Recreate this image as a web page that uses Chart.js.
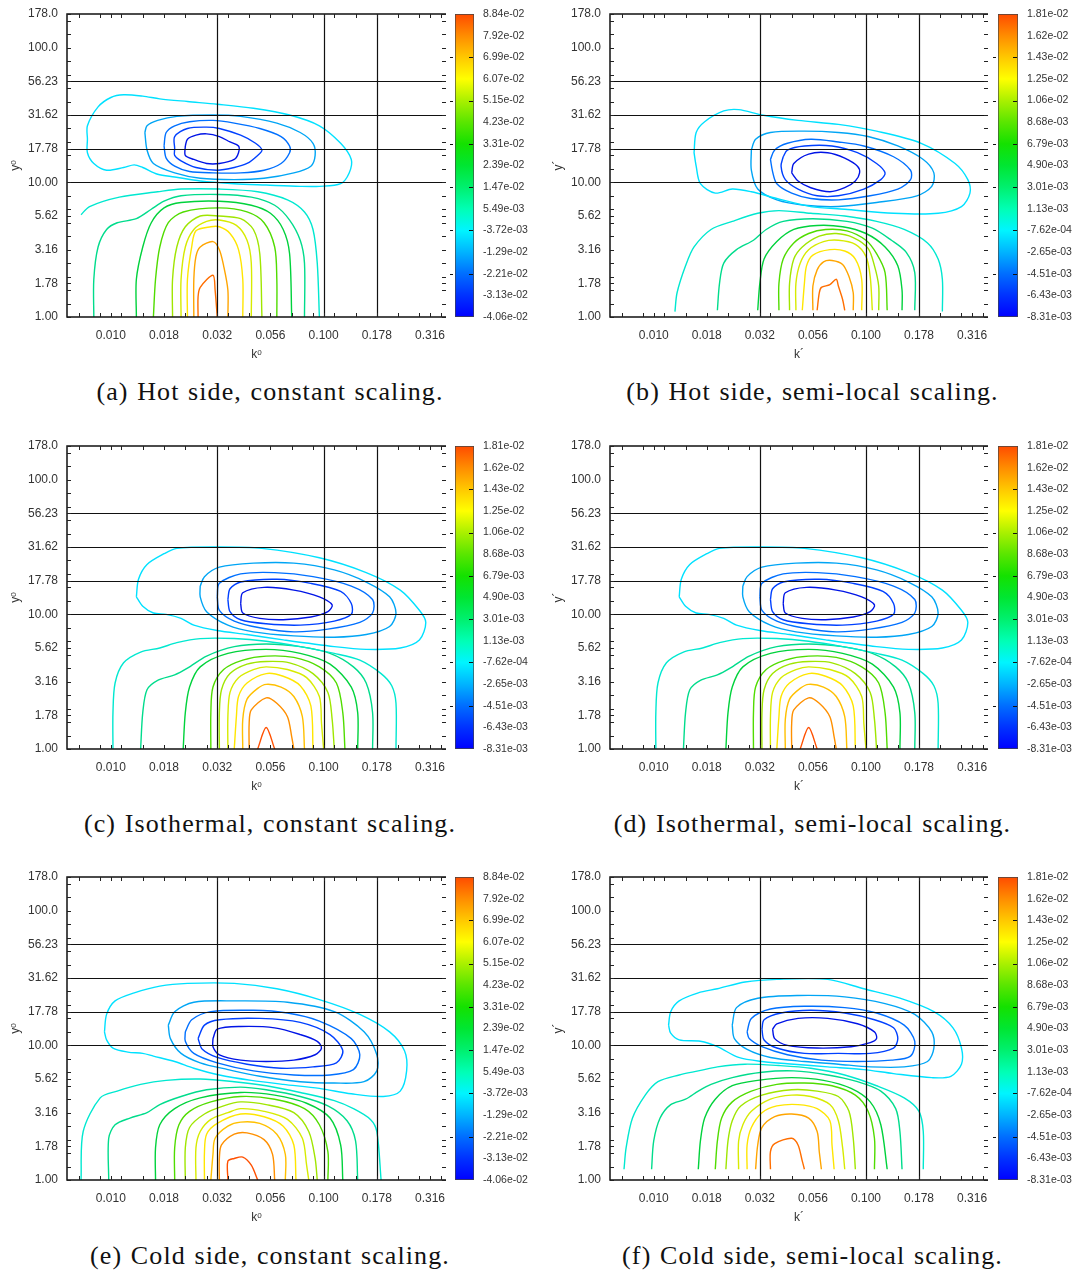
<!DOCTYPE html>
<html>
<head>
<meta charset="utf-8">
<script src="https://cdn.jsdelivr.net/npm/chart.js@4.4.1/dist/chart.umd.min.js"></script>
<style>
  body { margin: 0; background: #fff; width: 1086px; height: 1274px; position: relative; overflow: hidden; }
  .box { position: absolute; }
  .cap { position: absolute; text-align: center; font-family: 'Liberation Serif', 'DejaVu Serif', serif;
         font-size: 26px; letter-spacing: 1.1px; word-spacing: 1px; line-height: 30px; color: #111; }
</style>
</head>
<body>
<div class="box" style="left:0;top:0;width:450px;height:365px"><canvas id="pa"></canvas></div>
<div class="box" style="left:450px;top:0;width:95px;height:330px"><canvas id="ca"></canvas></div>
<div class="box" style="left:545px;top:0;width:447px;height:365px"><canvas id="pb"></canvas></div>
<div class="box" style="left:992px;top:0;width:94px;height:330px"><canvas id="cb"></canvas></div>

<div class="box" style="left:0;top:432px;width:450px;height:365px"><canvas id="pc"></canvas></div>
<div class="box" style="left:450px;top:432px;width:95px;height:330px"><canvas id="cc"></canvas></div>
<div class="box" style="left:545px;top:432px;width:447px;height:365px"><canvas id="pd"></canvas></div>
<div class="box" style="left:992px;top:432px;width:94px;height:330px"><canvas id="cd"></canvas></div>

<div class="box" style="left:0;top:863px;width:450px;height:365px"><canvas id="pe"></canvas></div>
<div class="box" style="left:450px;top:863px;width:95px;height:330px"><canvas id="ce"></canvas></div>
<div class="box" style="left:545px;top:863px;width:447px;height:365px"><canvas id="pf"></canvas></div>
<div class="box" style="left:992px;top:863px;width:94px;height:330px"><canvas id="cf"></canvas></div>

<div class="cap" style="left:0;top:377px;width:540px">(a) Hot side, constant scaling.</div>
<div class="cap" style="left:545px;top:377px;width:535px">(b) Hot side, semi-local scaling.</div>
<div class="cap" style="left:0;top:809px;width:540px">(c) Isothermal, constant scaling.</div>
<div class="cap" style="left:545px;top:809px;width:535px">(d) Isothermal, semi-local scaling.</div>
<div class="cap" style="left:0;top:1241px;width:540px">(e) Cold side, constant scaling.</div>
<div class="cap" style="left:545px;top:1241px;width:535px">(f) Cold side, semi-local scaling.</div>

<script>
/* ---------- axes ---------- */
const xTickVals = [0.01, 0.01778, 0.03162, 0.05623, 0.1, 0.1778, 0.3162];
const xTickLabels = ['0.010', '0.018', '0.032', '0.056', '0.100', '0.178', '0.316'];
const yTickVals = [1, 1.778, 3.162, 5.623, 10, 17.78, 31.62, 56.23, 100, 177.8];
const yTickLabels = ['1.00', '1.78', '3.16', '5.62', '10.00', '17.78', '31.62', '56.23', '100.0', '178.0'];
const xRefLines = [0.03162, 0.1, 0.1778];
const yRefLines = [10, 17.78, 31.62, 56.23];
const X_MIN = 10 ** -2.206, X_MAX = 10 ** -0.425;
const Y_MIN = 1, Y_MAX = 10 ** 2.25;

/* ---------- colour bars (top to bottom) ---------- */
const cbarWide = ['8.84e-02', '7.92e-02', '6.99e-02', '6.07e-02', '5.15e-02', '4.23e-02', '3.31e-02', '2.39e-02',
  '1.47e-02', '5.49e-03', '-3.72e-03', '-1.29e-02', '-2.21e-02', '-3.13e-02', '-4.06e-02'];
const cbarNarrow = ['1.81e-02', '1.62e-02', '1.43e-02', '1.25e-02', '1.06e-02', '8.68e-03', '6.79e-03', '4.90e-03',
  '3.01e-03', '1.13e-03', '-7.62e-04', '-2.65e-03', '-4.51e-03', '-6.43e-03', '-8.31e-03'];
// colormap, bottom -> top
const cmap = ['#0000ff', '#0032ff', '#006eff', '#00b4ff', '#00f5ff', '#00ffb4', '#00f06e', '#00e632',
  '#14e100', '#5ae600', '#aaf000', '#ffff00', '#ffc800', '#ff8c00', '#ff4b00'];

/* ---------- contour lines, [log10 k, log10 y] ---------- */
// (a) hot side, constant scaling
const hotConstNeg = [
  [[-2.11,1.32],[-2.11,1.42],[-2.06,1.56],[-2.00,1.63],[-1.94,1.65],[-1.85,1.64],[-1.77,1.62],[-1.64,1.60],[-1.50,1.58],[-1.33,1.55],[-1.16,1.50],[-1.02,1.42],[-0.92,1.29],[-0.87,1.17],[-0.88,1.07],[-0.92,0.99],[-1.02,0.97],[-1.11,0.97],[-1.27,0.98],[-1.42,0.99],[-1.58,1.01],[-1.70,1.04],[-1.78,1.06],[-1.85,1.11],[-1.89,1.13],[-1.94,1.11],[-2.02,1.09],[-2.08,1.14],[-2.11,1.22],[-2.11,1.32]],
  [[-1.84,1.37],[-1.83,1.42],[-1.78,1.46],[-1.69,1.49],[-1.52,1.50],[-1.39,1.49],[-1.22,1.44],[-1.11,1.37],[-1.05,1.29],[-1.04,1.20],[-1.06,1.12],[-1.14,1.07],[-1.28,1.03],[-1.42,1.02],[-1.58,1.03],[-1.70,1.07],[-1.80,1.14],[-1.83,1.24],[-1.84,1.37]],
  [[-1.75,1.27],[-1.74,1.37],[-1.70,1.42],[-1.63,1.45],[-1.52,1.46],[-1.42,1.44],[-1.30,1.40],[-1.20,1.34],[-1.16,1.27],[-1.16,1.22],[-1.20,1.14],[-1.28,1.09],[-1.39,1.07],[-1.52,1.07],[-1.63,1.08],[-1.70,1.12],[-1.74,1.18],[-1.75,1.27]],
  [[-1.70,1.25],[-1.70,1.34],[-1.64,1.40],[-1.55,1.41],[-1.49,1.40],[-1.39,1.35],[-1.32,1.29],[-1.29,1.24],[-1.31,1.20],[-1.36,1.14],[-1.42,1.11],[-1.50,1.09],[-1.60,1.11],[-1.67,1.16],[-1.70,1.20],[-1.70,1.25]],
  [[-1.65,1.27],[-1.64,1.32],[-1.60,1.35],[-1.55,1.36],[-1.49,1.34],[-1.44,1.30],[-1.40,1.27],[-1.40,1.22],[-1.42,1.17],[-1.49,1.14],[-1.55,1.14],[-1.61,1.17],[-1.65,1.20],[-1.65,1.27]]
];
const hotConstPos = [
  [[-2.14,0.76],[-2.10,0.82],[-1.96,0.89],[-1.78,0.93],[-1.67,0.95],[-1.49,0.95],[-1.31,0.93],[-1.17,0.87],[-1.09,0.78],[-1.05,0.65],[-1.03,0.40],[-1.02,0]],
  [[-2.08,0],[-2.08,0.28],[-2.06,0.52],[-2.02,0.65],[-1.97,0.70],[-1.88,0.73],[-1.81,0.80],[-1.75,0.86],[-1.67,0.90],[-1.49,0.91],[-1.34,0.89],[-1.23,0.83],[-1.16,0.72],[-1.11,0.57],[-1.09,0.40],[-1.09,0]],
  [[-1.88,0],[-1.88,0.28],[-1.85,0.52],[-1.81,0.70],[-1.75,0.81],[-1.67,0.85],[-1.49,0.86],[-1.34,0.83],[-1.25,0.77],[-1.19,0.65],[-1.16,0.47],[-1.15,0]],
  [[-1.80,0],[-1.79,0.28],[-1.77,0.52],[-1.73,0.70],[-1.66,0.78],[-1.49,0.81],[-1.36,0.78],[-1.28,0.70],[-1.23,0.52],[-1.22,0.28],[-1.22,0]],
  [[-1.71,0],[-1.71,0.28],[-1.69,0.52],[-1.65,0.67],[-1.58,0.75],[-1.49,0.75],[-1.39,0.73],[-1.33,0.65],[-1.30,0.47],[-1.29,0]],
  [[-1.67,0],[-1.67,0.28],[-1.65,0.52],[-1.61,0.65],[-1.55,0.71],[-1.49,0.72],[-1.41,0.68],[-1.36,0.57],[-1.34,0.40],[-1.34,0]],
  [[-1.64,0],[-1.64,0.28],[-1.62,0.52],[-1.60,0.64],[-1.53,0.67],[-1.49,0.67],[-1.44,0.62],[-1.40,0.50],[-1.38,0.28],[-1.38,0]],
  [[-1.61,0],[-1.61,0.28],[-1.60,0.45],[-1.58,0.52],[-1.52,0.56],[-1.49,0.50],[-1.47,0.38],[-1.45,0.20],[-1.45,0]],
  [[-1.59,0],[-1.59,0.15],[-1.58,0.22],[-1.52,0.31],[-1.51,0.20],[-1.50,0]]
];

// (b) hot side, semi-local scaling
const hotSemiNeg = [
  [[-1.81,1.22],[-1.80,1.37],[-1.76,1.45],[-1.67,1.53],[-1.60,1.54],[-1.49,1.50],[-1.32,1.46],[-1.13,1.43],[-0.95,1.38],[-0.74,1.29],[-0.58,1.14],[-0.52,1.02],[-0.51,0.92],[-0.55,0.82],[-0.66,0.77],[-0.87,0.77],[-1.10,0.80],[-1.26,0.82],[-1.42,0.88],[-1.54,0.93],[-1.63,0.95],[-1.71,0.92],[-1.78,0.99],[-1.80,1.12],[-1.81,1.22]],
  [[-1.54,1.24],[-1.52,1.32],[-1.45,1.37],[-1.29,1.38],[-1.13,1.37],[-0.99,1.34],[-0.85,1.27],[-0.73,1.17],[-0.68,1.07],[-0.69,0.97],[-0.76,0.90],[-0.95,0.85],[-1.13,0.82],[-1.29,0.83],[-1.42,0.87],[-1.51,0.95],[-1.54,1.09],[-1.54,1.24]],
  [[-1.45,1.17],[-1.43,1.24],[-1.37,1.29],[-1.26,1.32],[-1.13,1.30],[-1.01,1.27],[-0.87,1.19],[-0.79,1.09],[-0.79,1.02],[-0.85,0.95],[-0.98,0.90],[-1.13,0.87],[-1.26,0.88],[-1.35,0.92],[-1.42,0.99],[-1.44,1.08],[-1.45,1.17]],
  [[-1.39,1.19],[-1.37,1.24],[-1.29,1.27],[-1.16,1.27],[-1.04,1.22],[-0.95,1.14],[-0.91,1.07],[-0.93,1.02],[-1.01,0.95],[-1.13,0.90],[-1.23,0.90],[-1.32,0.95],[-1.38,1.02],[-1.40,1.12],[-1.39,1.19]],
  [[-1.35,1.07],[-1.34,1.14],[-1.27,1.21],[-1.18,1.22],[-1.10,1.18],[-1.04,1.12],[-1.03,1.07],[-1.05,1.01],[-1.10,0.96],[-1.17,0.93],[-1.26,0.96],[-1.32,1.01],[-1.35,1.07]]
];
const hotSemiPos = [
  [[-1.90,0.04],[-1.89,0.18],[-1.85,0.38],[-1.81,0.52],[-1.73,0.65],[-1.63,0.71],[-1.51,0.77],[-1.41,0.79],[-1.26,0.77],[-1.10,0.75],[-0.95,0.71],[-0.82,0.65],[-0.71,0.55],[-0.66,0.43],[-0.64,0.28],[-0.64,0.04]],
  [[-1.70,0.05],[-1.69,0.25],[-1.67,0.40],[-1.61,0.50],[-1.53,0.57],[-1.47,0.65],[-1.39,0.71],[-1.25,0.73],[-1.09,0.71],[-0.97,0.66],[-0.88,0.57],[-0.81,0.48],[-0.77,0.33],[-0.77,0.05]],
  [[-1.51,0.05],[-1.50,0.25],[-1.48,0.43],[-1.42,0.56],[-1.34,0.65],[-1.23,0.68],[-1.11,0.67],[-1.00,0.62],[-0.91,0.52],[-0.85,0.38],[-0.83,0.20],[-0.83,0.05]],
  [[-1.41,0.05],[-1.41,0.25],[-1.39,0.43],[-1.34,0.55],[-1.27,0.62],[-1.19,0.65],[-1.09,0.64],[-1.00,0.57],[-0.95,0.47],[-0.91,0.33],[-0.90,0.05]],
  [[-1.36,0.05],[-1.36,0.25],[-1.34,0.43],[-1.30,0.52],[-1.22,0.60],[-1.14,0.62],[-1.06,0.59],[-0.99,0.51],[-0.96,0.38],[-0.94,0.23],[-0.94,0.05]],
  [[-1.33,0.05],[-1.33,0.25],[-1.31,0.40],[-1.27,0.50],[-1.20,0.56],[-1.13,0.57],[-1.05,0.54],[-1.00,0.45],[-0.98,0.30],[-0.97,0.05]],
  [[-1.30,0.05],[-1.29,0.25],[-1.28,0.38],[-1.25,0.46],[-1.17,0.50],[-1.10,0.49],[-1.05,0.43],[-1.02,0.28],[-1.02,0.05]],
  [[-1.25,0.05],[-1.25,0.23],[-1.23,0.35],[-1.20,0.41],[-1.16,0.42],[-1.11,0.39],[-1.08,0.30],[-1.06,0.18],[-1.06,0.05]],
  [[-1.23,0.05],[-1.22,0.18],[-1.21,0.22],[-1.17,0.24],[-1.14,0.28],[-1.13,0.23],[-1.11,0.13],[-1.10,0.05]]
];

// (c) and (d) isothermal: both panels show the same field
const isoNeg = [
  [[-1.88,1.13],[-1.87,1.26],[-1.83,1.37],[-1.75,1.45],[-1.69,1.49],[-1.50,1.50],[-1.29,1.49],[-1.02,1.42],[-0.80,1.31],[-0.64,1.18],[-0.55,1.03],[-0.52,0.94],[-0.55,0.81],[-0.64,0.75],[-0.80,0.74],[-0.95,0.76],[-1.19,0.81],[-1.36,0.85],[-1.50,0.88],[-1.61,0.92],[-1.67,0.97],[-1.74,1.00],[-1.80,1.01],[-1.85,1.06],[-1.88,1.13]],
  [[-1.58,1.21],[-1.56,1.28],[-1.49,1.35],[-1.33,1.38],[-1.14,1.38],[-0.95,1.33],[-0.80,1.24],[-0.69,1.13],[-0.66,1.01],[-0.69,0.91],[-0.80,0.85],[-0.95,0.83],[-1.14,0.84],[-1.33,0.87],[-1.45,0.92],[-1.55,1.02],[-1.58,1.13],[-1.58,1.21]],
  [[-1.50,1.13],[-1.49,1.23],[-1.39,1.30],[-1.23,1.31],[-1.05,1.28],[-0.87,1.21],[-0.77,1.11],[-0.77,1.01],[-0.83,0.94],[-0.98,0.89],[-1.14,0.87],[-1.30,0.90],[-1.42,0.95],[-1.49,1.03],[-1.50,1.13]],
  [[-1.45,1.11],[-1.44,1.19],[-1.39,1.24],[-1.22,1.26],[-1.06,1.23],[-0.92,1.17],[-0.87,1.08],[-0.87,1.00],[-0.95,0.95],[-1.11,0.92],[-1.27,0.93],[-1.39,0.96],[-1.44,1.02],[-1.45,1.11]],
  [[-1.39,1.08],[-1.38,1.16],[-1.28,1.20],[-1.14,1.18],[-1.02,1.13],[-0.96,1.07],[-0.98,1.02],[-1.06,0.98],[-1.19,0.96],[-1.30,0.97],[-1.38,1.01],[-1.39,1.08]]
];
const isoPos = [
  [[-1.99,0],[-1.99,0.27],[-1.98,0.49],[-1.94,0.64],[-1.86,0.72],[-1.77,0.75],[-1.69,0.79],[-1.58,0.82],[-1.42,0.82],[-1.27,0.80],[-1.11,0.76],[-0.95,0.71],[-0.83,0.66],[-0.73,0.56],[-0.68,0.47],[-0.66,0.34],[-0.66,0]],
  [[-1.86,0],[-1.85,0.27],[-1.83,0.44],[-1.78,0.51],[-1.70,0.55],[-1.64,0.60],[-1.55,0.69],[-1.42,0.76],[-1.27,0.78],[-1.11,0.76],[-0.97,0.71],[-0.86,0.61],[-0.80,0.49],[-0.77,0.27],[-0.77,0]],
  [[-1.66,0],[-1.65,0.27],[-1.63,0.46],[-1.58,0.61],[-1.45,0.71],[-1.27,0.74],[-1.11,0.71],[-0.97,0.63],[-0.87,0.46],[-0.84,0.27],[-0.84,0]],
  [[-1.53,0],[-1.53,0.27],[-1.52,0.46],[-1.47,0.59],[-1.38,0.66],[-1.27,0.69],[-1.14,0.68],[-1.02,0.61],[-0.94,0.49],[-0.91,0.27],[-0.90,0]],
  [[-1.49,0],[-1.49,0.27],[-1.48,0.44],[-1.44,0.56],[-1.36,0.63],[-1.27,0.65],[-1.16,0.64],[-1.05,0.56],[-0.98,0.42],[-0.96,0.22],[-0.95,0]],
  [[-1.45,0],[-1.45,0.24],[-1.44,0.42],[-1.40,0.53],[-1.33,0.59],[-1.27,0.61],[-1.17,0.59],[-1.08,0.53],[-1.02,0.39],[-1.01,0.19],[-1.00,0]],
  [[-1.42,0],[-1.41,0.24],[-1.40,0.39],[-1.36,0.49],[-1.27,0.56],[-1.19,0.54],[-1.11,0.47],[-1.06,0.32],[-1.05,0]],
  [[-1.38,0],[-1.38,0.22],[-1.36,0.37],[-1.31,0.45],[-1.27,0.48],[-1.20,0.46],[-1.14,0.39],[-1.10,0.24],[-1.09,0]],
  [[-1.35,0],[-1.35,0.19],[-1.34,0.29],[-1.27,0.38],[-1.22,0.34],[-1.17,0.24],[-1.15,0.09],[-1.14,0]],
  [[-1.31,0],[-1.27,0.16],[-1.23,0]]
];

// (e) cold side, constant scaling
const coldConstNeg = [
  [[-2.03,1.10],[-2.02,1.23],[-1.98,1.33],[-1.89,1.39],[-1.77,1.44],[-1.64,1.46],[-1.42,1.46],[-1.22,1.42],[-1.02,1.34],[-0.83,1.23],[-0.69,1.10],[-0.62,0.96],[-0.61,0.81],[-0.64,0.66],[-0.72,0.62],[-0.87,0.64],[-1.02,0.68],[-1.19,0.71],[-1.34,0.74],[-1.49,0.78],[-1.61,0.83],[-1.70,0.88],[-1.80,0.92],[-1.85,0.94],[-1.92,0.95],[-1.99,0.98],[-2.02,1.04],[-2.03,1.10]],
  [[-1.73,1.15],[-1.70,1.25],[-1.61,1.32],[-1.42,1.33],[-1.17,1.32],[-0.95,1.25],[-0.81,1.10],[-0.75,0.93],[-0.75,0.81],[-0.81,0.73],[-0.95,0.72],[-1.11,0.73],[-1.30,0.77],[-1.45,0.82],[-1.58,0.87],[-1.67,0.94],[-1.72,1.05],[-1.73,1.15]],
  [[-1.65,1.10],[-1.62,1.19],[-1.53,1.25],[-1.33,1.26],[-1.17,1.24],[-1.02,1.18],[-0.87,1.05],[-0.83,0.93],[-0.86,0.82],[-0.97,0.78],[-1.14,0.78],[-1.33,0.81],[-1.50,0.87],[-1.61,0.94],[-1.65,1.03],[-1.65,1.10]],
  [[-1.59,1.05],[-1.56,1.15],[-1.49,1.19],[-1.30,1.20],[-1.11,1.17],[-0.97,1.08],[-0.91,0.96],[-0.94,0.87],[-1.05,0.84],[-1.20,0.83],[-1.36,0.86],[-1.50,0.91],[-1.57,0.97],[-1.59,1.05]],
  [[-1.52,1.05],[-1.50,1.12],[-1.39,1.14],[-1.23,1.13],[-1.11,1.08],[-1.03,1.03],[-1.01,0.98],[-1.04,0.93],[-1.14,0.89],[-1.27,0.88],[-1.39,0.89],[-1.49,0.93],[-1.52,0.99],[-1.52,1.05]]
];
const coldConstPos = [
  [[-2.14,0],[-2.13,0.36],[-2.05,0.61],[-1.97,0.66],[-1.86,0.71],[-1.74,0.74],[-1.58,0.75],[-1.42,0.73],[-1.27,0.70],[-1.11,0.65],[-0.95,0.59],[-0.86,0.53],[-0.78,0.45],[-0.75,0.36],[-0.73,0]],
  [[-2.01,0],[-2.01,0.31],[-1.98,0.41],[-1.91,0.46],[-1.83,0.50],[-1.77,0.56],[-1.67,0.62],[-1.55,0.67],[-1.39,0.69],[-1.27,0.67],[-1.11,0.62],[-0.98,0.55],[-0.89,0.44],[-0.85,0.29],[-0.84,0]],
  [[-1.79,0],[-1.79,0.24],[-1.77,0.41],[-1.70,0.53],[-1.58,0.61],[-1.39,0.65],[-1.23,0.63],[-1.08,0.57],[-0.97,0.46],[-0.92,0.26],[-0.91,0]],
  [[-1.70,0],[-1.70,0.24],[-1.68,0.41],[-1.63,0.51],[-1.53,0.58],[-1.39,0.62],[-1.23,0.60],[-1.09,0.53],[-1.02,0.41],[-0.98,0.21],[-0.98,0]],
  [[-1.65,0],[-1.65,0.24],[-1.63,0.39],[-1.56,0.49],[-1.47,0.55],[-1.39,0.58],[-1.27,0.56],[-1.14,0.50],[-1.07,0.36],[-1.04,0.16],[-1.03,0]],
  [[-1.60,0],[-1.60,0.24],[-1.58,0.36],[-1.53,0.45],[-1.45,0.50],[-1.39,0.53],[-1.28,0.51],[-1.17,0.45],[-1.10,0.31],[-1.08,0.11],[-1.07,0]],
  [[-1.56,0],[-1.56,0.21],[-1.55,0.34],[-1.50,0.42],[-1.39,0.49],[-1.28,0.47],[-1.19,0.40],[-1.14,0.26],[-1.13,0]],
  [[-1.53,0],[-1.52,0.19],[-1.51,0.31],[-1.45,0.40],[-1.39,0.43],[-1.30,0.42],[-1.22,0.34],[-1.18,0.19],[-1.18,0]],
  [[-1.49,0],[-1.49,0.16],[-1.48,0.26],[-1.42,0.34],[-1.36,0.35],[-1.28,0.30],[-1.24,0.19],[-1.23,0]],
  [[-1.45,0],[-1.45,0.14],[-1.42,0.16],[-1.38,0.17],[-1.34,0.11],[-1.31,0]]
];

// (f) cold side, semi-local scaling
const coldSemiNeg = [
  [[-1.93,1.15],[-1.92,1.25],[-1.88,1.33],[-1.79,1.39],[-1.70,1.42],[-1.57,1.47],[-1.42,1.49],[-1.18,1.49],[-1.01,1.42],[-0.84,1.35],[-0.68,1.25],[-0.59,1.13],[-0.55,0.98],[-0.55,0.86],[-0.60,0.77],[-0.69,0.76],[-0.87,0.79],[-1.01,0.82],[-1.18,0.84],[-1.34,0.86],[-1.49,0.88],[-1.60,0.91],[-1.70,0.99],[-1.78,1.03],[-1.88,1.04],[-1.92,1.09],[-1.93,1.15]],
  [[-1.63,1.15],[-1.61,1.28],[-1.51,1.35],[-1.32,1.37],[-1.10,1.36],[-0.91,1.31],[-0.77,1.23],[-0.69,1.10],[-0.68,0.98],[-0.71,0.88],[-0.82,0.84],[-0.98,0.84],[-1.13,0.86],[-1.29,0.88],[-1.45,0.91],[-1.56,0.97],[-1.62,1.05],[-1.63,1.15]],
  [[-1.56,1.10],[-1.54,1.20],[-1.45,1.27],[-1.29,1.29],[-1.10,1.28],[-0.95,1.24],[-0.82,1.15],[-0.77,1.03],[-0.79,0.92],[-0.88,0.89],[-1.04,0.88],[-1.21,0.89],[-1.37,0.93],[-1.49,0.99],[-1.55,1.05],[-1.56,1.10]],
  [[-1.49,1.12],[-1.48,1.19],[-1.40,1.24],[-1.26,1.26],[-1.10,1.24],[-0.96,1.19],[-0.87,1.13],[-0.85,1.05],[-0.87,0.98],[-0.98,0.94],[-1.13,0.94],[-1.29,0.94],[-1.42,0.98],[-1.48,1.04],[-1.49,1.12]],
  [[-1.44,1.12],[-1.42,1.16],[-1.32,1.20],[-1.18,1.20],[-1.04,1.16],[-0.96,1.10],[-0.95,1.05],[-0.98,1.02],[-1.07,0.99],[-1.23,0.98],[-1.37,1.00],[-1.43,1.05],[-1.44,1.12]]
];
const coldSemiPos = [
  [[-2.14,0.08],[-2.13,0.24],[-2.10,0.46],[-2.04,0.63],[-1.98,0.73],[-1.88,0.78],[-1.79,0.81],[-1.70,0.84],[-1.57,0.86],[-1.41,0.85],[-1.26,0.83],[-1.10,0.78],[-0.95,0.70],[-0.82,0.61],[-0.75,0.51],[-0.73,0.36],[-0.73,0.08]],
  [[-2.01,0.08],[-2.00,0.29],[-1.97,0.46],[-1.92,0.56],[-1.85,0.60],[-1.79,0.66],[-1.73,0.71],[-1.63,0.76],[-1.49,0.80],[-1.34,0.81],[-1.18,0.78],[-1.04,0.73],[-0.93,0.66],[-0.86,0.53],[-0.84,0.36],[-0.83,0.08]],
  [[-1.79,0.08],[-1.78,0.29],[-1.76,0.46],[-1.71,0.60],[-1.63,0.70],[-1.51,0.74],[-1.35,0.76],[-1.20,0.74],[-1.07,0.68],[-0.98,0.58],[-0.93,0.41],[-0.90,0.08]],
  [[-1.71,0.08],[-1.70,0.29],[-1.68,0.46],[-1.63,0.58],[-1.54,0.66],[-1.42,0.71],[-1.29,0.72],[-1.16,0.70],[-1.05,0.63],[-0.99,0.51],[-0.96,0.31],[-0.96,0.08]],
  [[-1.66,0.08],[-1.65,0.29],[-1.63,0.44],[-1.59,0.55],[-1.49,0.63],[-1.35,0.67],[-1.23,0.66],[-1.13,0.62],[-1.08,0.51],[-1.06,0.31],[-1.05,0.08]],
  [[-1.60,0.08],[-1.60,0.29],[-1.58,0.41],[-1.54,0.51],[-1.45,0.60],[-1.35,0.63],[-1.26,0.62],[-1.17,0.56],[-1.13,0.44],[-1.11,0.24],[-1.10,0.08]],
  [[-1.56,0.08],[-1.56,0.26],[-1.54,0.39],[-1.49,0.50],[-1.42,0.55],[-1.32,0.56],[-1.23,0.53],[-1.17,0.44],[-1.16,0.26],[-1.15,0.08]],
  [[-1.52,0.08],[-1.51,0.26],[-1.49,0.39],[-1.43,0.47],[-1.35,0.49],[-1.27,0.46],[-1.23,0.36],[-1.22,0.21],[-1.21,0.08]],
  [[-1.45,0.08],[-1.45,0.21],[-1.43,0.27],[-1.35,0.31],[-1.32,0.26],[-1.30,0.14],[-1.29,0.08]]
];

/* ---------- line colours ---------- */
const negColors = ['#00e1ff', '#00a5f5', '#0070ff', '#0040ff', '#0014e6'];
const pos9Colors = ['#00e8d0', '#00dc8c', '#00d23c', '#50dc00', '#a0e600', '#d7eb00', '#ffe600', '#ffa500', '#ff6e00'];
const pos10Colors = ['#00e8d0', '#00dc8c', '#00d23c', '#50dc00', '#a0e600', '#d7eb00', '#ffe600', '#ffc000', '#ff9000', '#ff5000'];

Chart.defaults.font.family = "'Liberation Sans', 'DejaVu Sans', sans-serif";
Chart.defaults.color = '#333';

const toPts = line => line.map(([lx, ly]) => ({ x: 10 ** lx, y: 10 ** ly }));

// inward tick marks, reference lines and the open frame (no right edge)
const minorX = [];
for (let v = -2.15; v < -0.44; v += 0.1) minorX.push(10 ** v);
const minorY = [];
for (let v = 0.1; v < 2.24; v += 0.1) minorY.push(10 ** v);

const framePlugin = {
  id: 'frame',
  afterDatasetsDraw(chart) {
    const { ctx, chartArea: a, scales: { x, y } } = chart;
    ctx.save();
    ctx.strokeStyle = '#111';
    ctx.lineWidth = 1.2;
    ctx.beginPath();
    xRefLines.forEach(v => {
      const px = Math.round(x.getPixelForValue(v)) + 0.5;
      ctx.moveTo(px, a.top); ctx.lineTo(px, a.bottom);
    });
    yRefLines.forEach(v => {
      const py = Math.round(y.getPixelForValue(v)) + 0.5;
      ctx.moveTo(a.left, py); ctx.lineTo(a.right, py);
    });
    ctx.stroke();

    ctx.lineWidth = 1.5;
    ctx.beginPath();
    ctx.moveTo(a.right, a.top); ctx.lineTo(a.left, a.top);
    ctx.lineTo(a.left, a.bottom); ctx.lineTo(a.right, a.bottom);
    ctx.stroke();

    ctx.lineWidth = 1;
    ctx.strokeStyle = '#222';
    ctx.beginPath();
    [...minorX, ...xTickVals].forEach(v => {
      const px = Math.round(x.getPixelForValue(v)) + 0.5;
      ctx.moveTo(px, a.bottom); ctx.lineTo(px, a.bottom - 4);
      ctx.moveTo(px, a.top); ctx.lineTo(px, a.top + 4);
    });
    [...minorY, ...yTickVals].forEach(v => {
      const py = Math.round(y.getPixelForValue(v)) + 0.5;
      ctx.moveTo(a.left, py); ctx.lineTo(a.left + 4, py);
      ctx.moveTo(a.right, py); ctx.lineTo(a.right - 4, py);
    });
    ctx.stroke();
    ctx.restore();
  }
};

function contourChart(id, lines, colors, xTitle, yTitle, yAxisWidth, yTitlePad) {
  return new Chart(document.getElementById(id), {
    type: 'scatter',
    data: {
      datasets: lines.map((line, i) => ({
        data: toPts(line),
        showLine: true,
        borderColor: colors[i],
        borderWidth: 1.4,
        pointRadius: 0,
        tension: 0.3,
        fill: false,
      }))
    },
    options: {
      responsive: true,
      maintainAspectRatio: false,
      animation: false,
      events: [],
      layout: { padding: { top: 14, right: 4, left: 0, bottom: 0 } },
      plugins: { legend: { display: false }, tooltip: { enabled: false } },
      scales: {
        x: {
          type: 'logarithmic', min: X_MIN, max: X_MAX,
          afterBuildTicks: s => { s.ticks = xTickVals.map(v => ({ value: v })); },
          // fixed box: no extra room for the end labels
          afterFit: s => { s.height = 48; s.paddingLeft = 0; s.paddingRight = 0; },
          grid: { display: false, drawTicks: false },
          border: { display: false },
          ticks: { autoSkip: false, maxRotation: 0, minRotation: 0, padding: 11, font: { size: 12 },
                   callback: (v, i) => xTickLabels[i] },
          title: { display: true, text: xTitle, font: { size: 12 }, padding: { top: 0, bottom: 3 } },
        },
        y: {
          type: 'logarithmic', min: Y_MIN, max: Y_MAX,
          afterBuildTicks: s => { s.ticks = yTickVals.map(v => ({ value: v })); },
          afterFit: s => { s.width = yAxisWidth; s.paddingTop = 0; s.paddingBottom = 0; },
          grid: { display: false, drawTicks: false },
          border: { display: false },
          ticks: { autoSkip: false, padding: 9, font: { size: 12 },
                   callback: (v, i) => yTickLabels[i] },
          title: { display: true, text: yTitle, font: { size: 12 }, padding: { top: yTitlePad, bottom: 0 } },
        }
      }
    },
    plugins: [framePlugin]
  });
}

// colour bar
function cbarFill(context) {
  const { chart } = context;
  const area = chart.chartArea;
  if (!area) return cmap[0];
  const g = chart.ctx.createLinearGradient(0, area.bottom, 0, area.top);
  cmap.forEach((c, i) => g.addColorStop(i / (cmap.length - 1), c));
  return g;
}

const cbarTicks = {
  id: 'cbarTicks',
  afterDatasetsDraw(chart) {
    const { ctx, chartArea: a, scales: { y } } = chart;
    ctx.save();
    ctx.strokeStyle = '#111';
    ctx.lineWidth = 1;
    ctx.beginPath();
    for (let v = 2; v <= 12; v += 2) {
      const py = Math.round(y.getPixelForValue(v)) + 0.5;
      ctx.moveTo(a.left - 5, py); ctx.lineTo(a.left - 2, py);
      ctx.moveTo(a.right - 5, py); ctx.lineTo(a.right - 1, py);
    }
    ctx.stroke();
    ctx.restore();
  }
};

function colorbarChart(id, labels, padLeft, axisWidth) {
  const n = labels.length - 1;
  return new Chart(document.getElementById(id), {
    type: 'bar',
    data: {
      labels: [''],
      datasets: [{
        data: [[0, n]],
        backgroundColor: cbarFill,
        borderColor: '#444',
        borderWidth: 1,
        borderSkipped: false,
        barPercentage: 1,
        categoryPercentage: 1,
      }]
    },
    options: {
      responsive: true,
      maintainAspectRatio: false,
      animation: false,
      events: [],
      layout: { padding: { top: 14, bottom: 13, left: padLeft, right: 0 } },
      plugins: { legend: { display: false }, tooltip: { enabled: false } },
      scales: {
        x: { display: false },
        y: {
          position: 'right', min: 0, max: n,
          afterBuildTicks: s => { s.ticks = labels.map((_, i) => ({ value: n - i })); },
          afterFit: s => { s.width = axisWidth; s.paddingTop = 0; s.paddingBottom = 0; },
          grid: { display: false, drawTicks: false },
          border: { display: false },
          ticks: { autoSkip: false, padding: 9, font: { size: 10.5 }, callback: v => labels[n - v] },
        }
      }
    },
    plugins: [cbarTicks]
  });
}

const negPos = (neg, pos) => [...neg, ...pos];

contourChart('pa', negPos(hotConstNeg, hotConstPos), [...negColors, ...pos9Colors], 'kᵒ', 'yᵒ', 67, 8);
contourChart('pb', negPos(hotSemiNeg, hotSemiPos), [...negColors, ...pos9Colors], 'k´', 'y´', 65, 6);
contourChart('pc', negPos(isoNeg, isoPos), [...negColors, ...pos10Colors], 'kᵒ', 'yᵒ', 67, 8);
contourChart('pd', negPos(isoNeg, isoPos), [...negColors, ...pos10Colors], 'k´', 'y´', 65, 6);
contourChart('pe', negPos(coldConstNeg, coldConstPos), [...negColors, ...pos10Colors], 'kᵒ', 'yᵒ', 67, 8);
contourChart('pf', negPos(coldSemiNeg, coldSemiPos), [...negColors, ...pos9Colors], 'k´', 'y´', 65, 6);

colorbarChart('ca', cbarWide, 5, 71);
colorbarChart('cb', cbarNarrow, 6, 68);
colorbarChart('cc', cbarNarrow, 5, 71);
colorbarChart('cd', cbarNarrow, 6, 68);
colorbarChart('ce', cbarWide, 5, 71);
colorbarChart('cf', cbarNarrow, 6, 68);
</script>
</body>
</html>
